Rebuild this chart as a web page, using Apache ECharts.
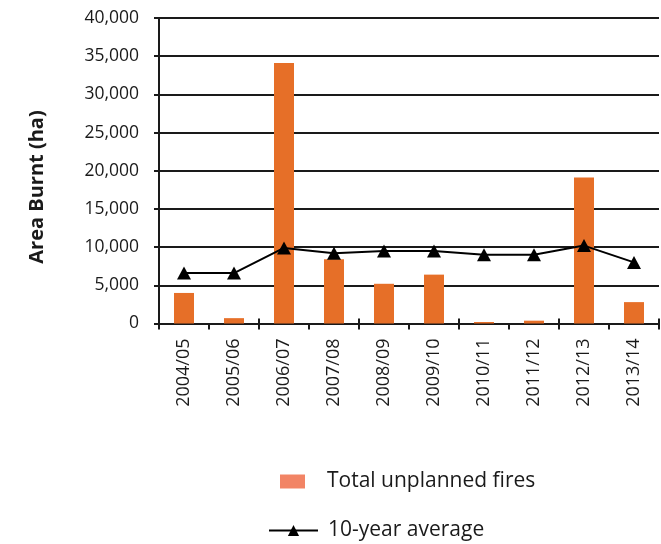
<!DOCTYPE html>
<html>
<head>
<meta charset="utf-8">
<script src="https://cdn.jsdelivr.net/npm/echarts@6/dist/echarts.min.js"></script>
<style>
  html, body { margin: 0; padding: 0; background: #ffffff; }
  #chart { width: 661px; height: 544px; }
</style>
</head>
<body>
<div id="chart"></div>
<script>
// Financial years
var seasons = ['2004/05', '2005/06', '2006/07', '2007/08', '2008/09',
               '2009/10', '2010/11', '2011/12', '2012/13', '2013/14'];
// Area burnt by unplanned fires each year (ha)
var unplannedFires = [4000, 700, 34100, 8400, 5200, 6400, 200, 370, 19100, 2800];
// Rolling 10-year average (ha)
var tenYearAverage = [6600, 6600, 9900, 9200, 9500, 9500, 9000, 9000, 10200, 8000];
// Value axis ticks
var yTicks = [0, 5000, 10000, 15000, 20000, 25000, 30000, 35000, 40000];

var FONT = '"Open Sans", "Noto Sans", sans-serif';
var INK = '#1a1a1a';

var chart = echarts.init(document.getElementById('chart'), null, { renderer: 'canvas' });

chart.setOption({
  animation: false,
  backgroundColor: '#ffffff',
  textStyle: { fontFamily: FONT, color: INK },
  grid: { left: 159, right: 2, top: 18, bottom: 220.5, containLabel: false },
  xAxis: [{
    type: 'category',
    data: seasons,
    boundaryGap: true,
    axisLine: { lineStyle: { color: INK, width: 2 } },
    axisTick: { show: true, alignWithLabel: false, length: 6, lineStyle: { color: INK, width: 2 } },
    axisLabel: { rotate: 90, margin: 15, fontSize: 18, color: INK, fontFamily: FONT }
  }, {
    type: 'category',
    data: seasons,
    position: 'bottom',
    boundaryGap: true,
    axisLine: { show: false },
    axisTick: { show: true, inside: true, length: 5, lineStyle: { color: INK, width: 2 } },
    axisLabel: { show: false }
  }],
  yAxis: {
    type: 'value',
    min: yTicks[0],
    max: yTicks[yTicks.length - 1],
    interval: yTicks[1] - yTicks[0],
    axisLine: { show: true, lineStyle: { color: INK, width: 2 } },
    axisTick: { show: true, length: 5, lineStyle: { color: INK, width: 2 } },
    splitLine: { show: true, lineStyle: { color: INK, width: 2 } },
    axisLabel: {
      fontSize: 17.5, color: INK, fontFamily: FONT, margin: 20,
      formatter: function (v) { return v.toLocaleString('en-US'); }
    }
  },
  graphic: [{
    type: 'text',
    x: 37, y: 187,
    rotation: Math.PI / 2,
    style: {
      text: 'Area Burnt (ha)',
      fill: INK,
      font: 'bold 20px ' + FONT,
      textAlign: 'center',
      textVerticalAlign: 'middle'
    }
  }],
  legend: [{
    data: [{ name: 'Total unplanned fires', icon: 'rect', itemStyle: { color: '#F28465' } }],
    left: 275, top: 466,
    itemWidth: 25, itemHeight: 14,
    textStyle: { fontSize: 21, color: INK, fontFamily: FONT, padding: [0, 0, 0, 17] }
  }, {
    data: [{ name: '10-year average' }],
    left: 263, top: 515,
    itemWidth: 49, itemHeight: 14,
    textStyle: { fontSize: 21, color: INK, fontFamily: FONT, padding: [0, 0, 0, 5] }
  }],
  series: [{
    name: 'Total unplanned fires',
    type: 'bar',
    data: unplannedFires,
    barWidth: 20,
    itemStyle: { color: '#E66F28' },
    z: 2
  }, {
    name: '10-year average',
    type: 'line',
    data: tenYearAverage,
    symbol: 'triangle',
    symbolSize: [14, 13],
    itemStyle: { color: '#000000' },
    lineStyle: { color: '#000000', width: 2 },
    z: 3
  }]
});
</script>
</body>
</html>
